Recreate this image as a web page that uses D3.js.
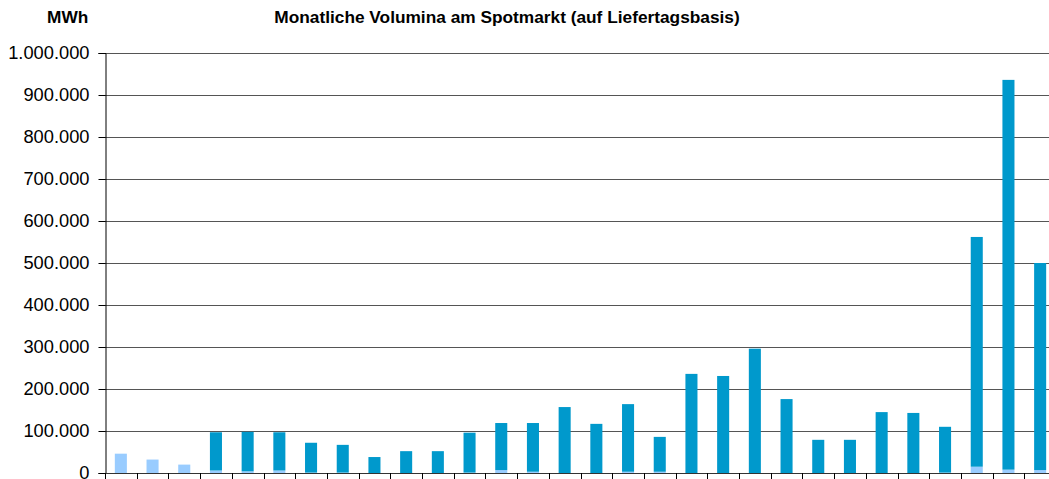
<!DOCTYPE html>
<html>
<head>
<meta charset="utf-8">
<script src="https://cdn.jsdelivr.net/npm/d3@7"></script>
<style>
  body { margin: 0; background: #fff; }
  text { font-family: "Liberation Sans", Arial, sans-serif; }
</style>
</head>
<body>
<svg width="1049" height="479"></svg>
<script>
// monthly categories (labels not visible in the crop)
const months = d3.range(1, 31).map(i => "M" + i);

// lower (light) series, MWh
const lightVals = [46000, 32000, 20000, 6000, 4000, 6000, 1000, 1000, 0, 0,
  0, 1000, 7000, 3000, 0, 0, 3000, 3000, 0, 0,
  0, 0, 0, 0, 0, 0, 1000, 15000, 8000, 7000];

// upper (dark) series, MWh
const darkVals = [0, 0, 0, 91000, 94000, 91000, 71000, 66000, 38000, 52000,
  52000, 95000, 112000, 116000, 157000, 117000, 161000, 83000, 236000, 231000,
  296000, 176000, 79000, 79000, 145000, 143000, 109000, 547000, 928000, 493000];

const yTicks = [0, 100000, 200000, 300000, 400000, 500000, 600000, 700000, 800000, 900000, 1000000];

const svg = d3.select("svg");
const W = 1049;
const plotLeft = 105, plotTop = 53, plotBottom = 473;

const de = d3.formatLocale({ decimal: ",", thousands: ".", grouping: [3], currency: ["", " €"] });
const fmt = de.format(",.0f");

const x = d3.scaleBand()
  .domain(months)
  .range([plotLeft, plotLeft + 30 * 31.7])
  .paddingInner(0.62)
  .paddingOuter(0.31);

const y = d3.scaleLinear()
  .domain([0, 1000000])
  .range([plotBottom, plotTop]);

// grid lines
svg.append("g")
  .selectAll("line")
  .data(yTicks)
  .enter()
  .append("line")
  .attr("x1", plotLeft)
  .attr("x2", W)
  .attr("y1", d => Math.round(y(d)) + 0.5)
  .attr("y2", d => Math.round(y(d)) + 0.5)
  .attr("stroke", "#555")
  .attr("stroke-width", 1);

// stacked bars
const stackData = months.map((m, i) => ({ m: m, light: lightVals[i], dark: darkVals[i] }));
const series = d3.stack().keys(["light", "dark"])(stackData);
const colors = { light: "#99CCFF", dark: "#0099CC" };

svg.append("g")
  .selectAll("g")
  .data(series)
  .enter()
  .append("g")
  .attr("fill", s => colors[s.key])
  .selectAll("rect")
  .data(s => s)
  .enter()
  .append("rect")
  .attr("x", d => x(d.data.m))
  .attr("width", x.bandwidth())
  .attr("y", d => y(d[1]))
  .attr("height", d => y(d[0]) - y(d[1]));

// y axis
const yAxis = d3.axisLeft(y)
  .tickValues(yTicks)
  .tickFormat(fmt)
  .tickSize(7)
  .tickPadding(9);

const yg = svg.append("g")
  .attr("transform", `translate(${plotLeft + 0.5},0)`)
  .call(yAxis);
yg.select(".domain").attr("stroke", "#000");
yg.selectAll(".tick line").attr("stroke", "#000");
yg.selectAll("text")
  .attr("font-size", 18.3)
  .attr("fill", "#000")
  .style("font-family", "'Liberation Sans', Arial, sans-serif");

// x axis baseline and category boundary ticks
svg.append("line")
  .attr("x1", plotLeft)
  .attr("x2", W)
  .attr("y1", plotBottom + 0.5)
  .attr("y2", plotBottom + 0.5)
  .attr("stroke", "#333");

svg.append("g")
  .selectAll("line")
  .data(d3.range(months.length + 1))
  .enter()
  .append("line")
  .attr("x1", i => Math.round(plotLeft + i * x.step()) + 0.5)
  .attr("x2", i => Math.round(plotLeft + i * x.step()) + 0.5)
  .attr("y1", plotBottom)
  .attr("y2", plotBottom + 7)
  .attr("stroke", "#000");

// titles
svg.append("text")
  .attr("x", 47)
  .attr("y", 23)
  .attr("font-size", 17.3)
  .attr("font-weight", "bold")
  .text("MWh");

svg.append("text")
  .attr("x", 507)
  .attr("y", 23)
  .attr("text-anchor", "middle")
  .attr("font-size", 17.3)
  .attr("font-weight", "bold")
  .text("Monatliche Volumina am Spotmarkt (auf Liefertagsbasis)");
</script>
</body>
</html>
